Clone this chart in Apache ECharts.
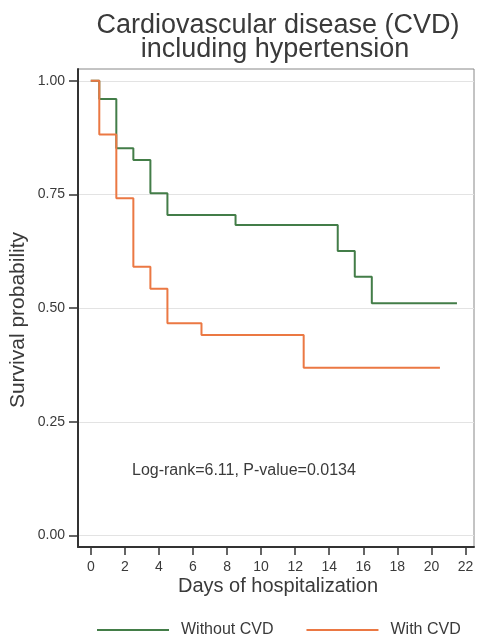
<!DOCTYPE html>
<html>
<head>
<meta charset="utf-8">
<script src="https://cdn.jsdelivr.net/npm/echarts@6/dist/echarts.min.js"></script>
<style>
html,body{margin:0;padding:0;background:#fff;}
#chart{width:477px;height:636px;}
</style>
</head>
<body>
<div id="chart"></div>
<script>
// Kaplan-Meier step points [day, survival]
var withoutCVD = [[0,1],[0.5,0.96],[1.5,0.852],[2.5,0.826],[3.5,0.753],[4.5,0.705],[8.5,0.683],[14.5,0.626],[15.5,0.569],[16.5,0.511],[21.5,0.511]];
var withCVD = [[0,1],[0.5,0.882],[1.5,0.742],[2.5,0.591],[3.5,0.543],[4.5,0.467],[6.5,0.441],[12.5,0.369],[20.5,0.369]];
var seriesNames = ['Without CVD','With CVD'];
var yTicks = [0, 0.25, 0.5, 0.75, 1];
var xTicks = [0,2,4,6,8,10,12,14,16,18,20,22];
var titleLines = ['Cardiovascular disease (CVD)','including hypertension'];
var annotation = 'Log-rank=6.11, P-value=0.0134';
var xName = 'Days of hospitalization';
var yName = 'Survival probability';

var FONT = '"Liberation Sans", Arial, sans-serif';
var TXT = '#3a3a3a';
var chart = echarts.init(document.getElementById('chart'), null, {renderer:'canvas'});
var option = {
  backgroundColor:'#fff',
  animation:false,
  grid:{left:78,right:3,top:69,bottom:89,show:true,borderColor:'#888',borderWidth:1},
  xAxis:{
    type:'value', min:-0.75, max:22.5, interval:2,
    axisLine:{show:true,onZero:false,lineStyle:{color:'#333',width:2}},
    axisTick:{show:true,inside:false,length:8,lineStyle:{color:'#333',width:1.5},customValues:xTicks},
    axisLabel:{color:TXT,fontSize:14,fontFamily:FONT,margin:13,customValues:xTicks},
    splitLine:{show:false}
  },
  yAxis:{
    type:'value', min:-0.025, max:1.026,
    axisLine:{show:true,onZero:false,lineStyle:{color:'#333',width:2}},
    axisTick:{show:true,inside:false,length:9,lineStyle:{color:'#333',width:1.5},customValues:yTicks},
    axisLabel:{color:TXT,fontSize:14,fontFamily:FONT,margin:13,customValues:yTicks,
      formatter:function(v){return v.toFixed(2);}},
    splitLine:{show:false}
  },
  legend:{
    left:92, top:617, itemWidth:72, itemHeight:2, itemGap:33, icon:'rect',
    textStyle:{color:TXT,fontSize:16,fontFamily:FONT,padding:[0,0,0,7]},
    data:seriesNames
  },
  series:[
    {name:seriesNames[0],type:'line',step:'end',data:withoutCVD,showSymbol:false,
     lineStyle:{color:'#437d48',width:2},itemStyle:{color:'#437d48'},
     markLine:{silent:true,symbol:'none',label:{show:false},
       lineStyle:{color:'#e3e3e3',width:1,type:'solid'},
       data:yTicks.map(function(t){return {yAxis:t};}), z:0}},
    {name:seriesNames[1],type:'line',step:'end',data:withCVD,showSymbol:false,
     lineStyle:{color:'#eb7843',width:2},itemStyle:{color:'#eb7843'}}
  ],
  graphic:[
    {type:'text',x:278,y:12,style:{text:titleLines[0],font:'27px '+FONT,fill:TXT,align:'center',verticalAlign:'top'}},
    {type:'text',x:275,y:36,style:{text:titleLines[1],font:'27px '+FONT,fill:TXT,align:'center',verticalAlign:'top'}},
    {type:'text',x:132,y:463,style:{text:annotation,font:'16px '+FONT,fill:TXT,verticalAlign:'top'}},
    {type:'text',x:278,y:576,style:{text:xName,font:'20px '+FONT,fill:TXT,align:'center',verticalAlign:'top'}},
    {type:'text',x:8,y:320,rotation:Math.PI/2,style:{text:yName,font:'21px '+FONT,fill:TXT,align:'center',verticalAlign:'top'}}
  ]
};
chart.setOption(option);
</script>
</body>
</html>
